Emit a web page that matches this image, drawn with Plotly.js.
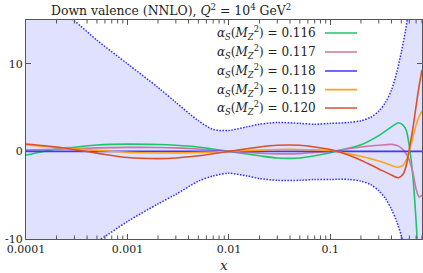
<!DOCTYPE html>
<html>
<head>
<meta charset="utf-8">
<script src="https://cdn.plot.ly/plotly-3.0.1.min.js"></script>
<style>html,body{margin:0;padding:0;background:#fff;}#chart{width:423px;height:273px;}</style>
</head>
<body>
<div id="chart"></div>
<script>
// ---- data ----
const bandX = [1e-4, 2e-4, 3e-4, 5e-4, 1e-3, 2e-3, 3e-3, 5e-3, 7e-3, 0.01, 0.015, 0.02, 0.03, 0.05, 0.07, 0.1, 0.15, 0.2, 0.25, 0.3, 0.35, 0.4, 0.45, 0.5, 0.55, 0.6, 0.7, 0.8];
const bandUpper = [19, 16.4, 14.9, 12.7, 10.0, 7.3, 5.6, 3.5, 2.5, 2.4, 2.8, 3.1, 3.3, 3.2, 3.1, 3.2, 3.3, 3.5, 3.9, 4.6, 5.6, 7.0, 9.0, 11.3, 13.8, 16.5, 22, 30];
const bandLower = [-15, -12.8, -11.6, -10.3, -8.0, -6.0, -4.9, -3.4, -2.8, -2.5, -2.8, -3.1, -3.3, -3.3, -3.2, -3.2, -3.2, -3.4, -3.8, -4.5, -5.4, -6.6, -8.0, -9.6, -11.5, -14, -20, -28];

const xGrid = [1e-4, 2e-4, 3e-4, 5e-4, 1e-3, 2e-3, 3e-3, 5e-3, 0.01, 0.02, 0.03, 0.05, 0.07, 0.1, 0.15, 0.2, 0.3, 0.4, 0.47, 0.52, 0.56, 0.6, 0.65, 0.7, 0.75, 0.8];
const as0116 = [-0.42, 0.28, 0.48, 0.73, 0.83, 0.78, 0.7, 0.5, 0.0, -0.5, -0.75, -0.75, -0.5, -0.15, 0.35, 0.75, 1.8, 2.8, 3.27, 3.0, 2.4, 0.6, -2.8, -8.0, -14, -20];
const as0117 = [0.15, 0.25, 0.32, 0.4, 0.46, 0.45, 0.4, 0.27, 0.0, -0.2, -0.28, -0.25, -0.12, 0.02, 0.3, 0.5, 0.7, 0.8, 0.6, 0.2, -0.3, -1.0, -2.4, -4.3, -5.2, -5.0];
const as0118 = [0, 0, 0, 0, 0, 0, 0, 0, 0, 0, 0, 0, 0, 0, 0, 0, 0, 0, 0, 0, 0, 0, 0, 0, 0, 0];
const as0119 = [0.75, 0.45, 0.3, 0.12, -0.1, -0.18, -0.17, -0.12, 0.0, 0.15, 0.22, 0.22, 0.18, 0.1, -0.25, -0.55, -1.1, -1.6, -1.8, -1.6, -1.0, 0.0, 1.6, 3.0, 4.0, 4.6];
const as0120 = [0.85, 0.5, 0.2, -0.2, -0.7, -0.82, -0.75, -0.5, 0.0, 0.5, 0.7, 0.7, 0.5, 0.2, -0.4, -1.0, -2.0, -2.7, -3.0, -2.6, -1.6, 0.3, 2.6, 5.2, 7.5, 9.3];

const seriesNames = ['0.116', '0.117', '0.118', '0.119', '0.120'];
const seriesValues = [as0116, as0117, as0118, as0119, as0120];
const seriesColors = ['#1dc56a', '#c9789e', '#3a3aff', '#ffa31a', '#d9502e'];

const yTickVals = [-10, 0, 10];
const yTickText = ['-10', '0', '10'];
const xDecades = [-4, -3, -2, -1];
const titleText = 'Down valence (NNLO), <i>Q</i><sup>2</sup> = 10<sup>4</sup> GeV<sup>2</sup>';

// ---- traces ----
const serif = 'DejaVu Serif';
const traces = [];
const bandLine = {color: '#2b2bff', width: 1.5, dash: '1.5px,1.5px', shape: 'spline', smoothing: 0.8};
traces.push({x: bandX, y: bandLower, mode: 'lines', line: bandLine, hoverinfo: 'skip', showlegend: false});
traces.push({x: bandX, y: bandUpper, mode: 'lines', fill: 'tonexty', fillcolor: 'rgba(0,0,255,0.12)', line: bandLine, hoverinfo: 'skip', showlegend: false});
seriesValues.forEach((vals, i) => {
  traces.push({x: xGrid, y: vals, mode: 'lines', name: seriesNames[i], line: {color: seriesColors[i], width: 1.6, shape: 'spline', smoothing: 0.8}, showlegend: false});
});

// ---- legend (text left, line sample right) ----
const annotations = [];
const shapes = [];
const legY = [0.9406, 0.854, 0.767, 0.682, 0.598];
seriesNames.forEach((n, i) => {
  annotations.push({xref: 'paper', yref: 'paper', x: 0.737, y: legY[i], xanchor: 'right', yanchor: 'middle', showarrow: false,
    text: '<i>α</i><sub><i>S</i></sub>(<i>M</i><sub><i>Z</i></sub><sup>2</sup>) = ' + n, font: {family: serif, size: 12, color: '#222'}});
  shapes.push({type: 'line', xref: 'paper', yref: 'paper', x0: 0.755, x1: 0.836, y0: legY[i], y1: legY[i], line: {color: seriesColors[i], width: 1.6}});
});
// chart title, aligned with the left edge of the plot area
annotations.push({xref: 'paper', yref: 'paper', x: 0, y: 1, xanchor: 'left', yanchor: 'bottom', xshift: 23, showarrow: false,
  text: titleText, font: {family: serif, size: 12.4, color: '#222'}});

// minor ticks (2..9 in each decade) on bottom and top axes
xDecades.forEach(d => {
  for (let m = 2; m <= 9; m++) {
    const xv = m * Math.pow(10, d);
    if (xv > 0.8) continue;
    shapes.push({type: 'line', xref: 'x', yref: 'paper', x0: xv, x1: xv, y0: 0, y1: 0.016, line: {color: '#555', width: 1}});
    shapes.push({type: 'line', xref: 'x', yref: 'paper', x0: xv, x1: xv, y0: 1, y1: 0.984, line: {color: '#555', width: 1}});
  }
});

const layout = {
  width: 423, height: 273,
  margin: {l: 26, r: 1, t: 20, b: 34},
  paper_bgcolor: '#fff', plot_bgcolor: '#fff',
  showlegend: false,
  font: {family: serif, size: 11, color: '#222'},
  xaxis: {type: 'log', range: [-4, Math.log10(0.8)], tickmode: 'linear', tick0: 0, dtick: 1, exponentformat: 'none',
    ticks: 'inside', ticklen: 5, tickcolor: '#555',
    showline: true, linecolor: '#555', linewidth: 1, mirror: 'allticks', showgrid: false, zeroline: false,
    title: {text: '<i>x</i>', font: {family: serif, size: 13, color: '#222'}, standoff: 10}, tickfont: {family: serif, size: 11, color: '#222'}},
  yaxis: {range: [-10, 15], tickvals: yTickVals, ticktext: yTickText, ticks: 'inside', ticklen: 5, tickcolor: '#555',
    showline: true, linecolor: '#555', linewidth: 1, mirror: 'allticks', showgrid: false, zeroline: false,
    tickfont: {family: serif, size: 11, color: '#222'}},
  annotations: annotations,
  shapes: shapes
};

Plotly.newPlot('chart', traces, layout, {staticPlot: true, displayModeBar: false});
</script>
</body>
</html>
